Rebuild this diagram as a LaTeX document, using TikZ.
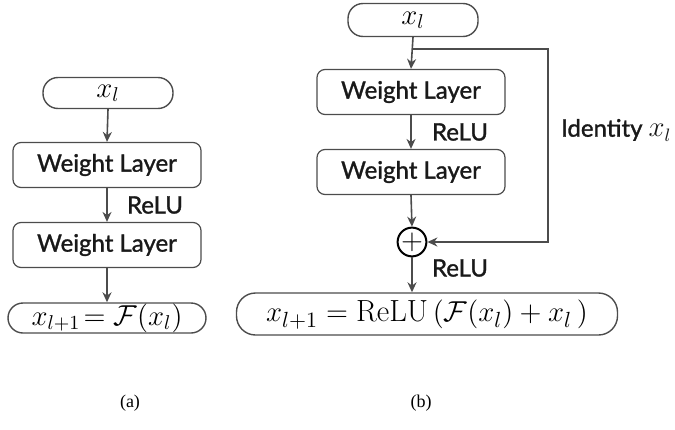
\documentclass[tikz,border=0pt]{standalone}
\usepackage{fontspec}
\newfontfamily\lato[RawFeature={embolden=1.3}]{Lato}
\newfontfamily\capfont{Liberation Serif}
\usetikzlibrary{arrows.meta}
\begin{document}
\begin{tikzpicture}[x=0.5pt,y=-0.5pt,
  lc/.style={draw=black!70},
  box/.style={lc, rounded corners=4pt, line width=0.6pt, minimum width=94pt, minimum height=22.5pt, inner sep=0pt, font=\lato\fontsize{12}{14}\selectfont, text=black!90},
  pill/.style={lc, rounded corners=7.5pt, line width=0.7pt, inner sep=0pt, font=\fontsize{14.2}{16}\selectfont},
  arr/.style={lc, line width=0.8pt, -{Stealth[length=5pt,width=4.5pt]}},
  lab/.style={font=\lato\fontsize{12}{14}\selectfont, text=black!90},
  captext/.style={font=\capfont\fontsize{9}{11}\selectfont}]
\useasboundingbox (0,0) rectangle (675,429);
% (a)
\node[pill, minimum width=65pt, minimum height=15.5pt] (a0) at (108,93) {$x_l$};
\node[box] (a1) at (107,165) {Weight Layer};
\node[box] (a2) at (107,245) {Weight Layer};
\node[pill, minimum width=99pt, minimum height=15pt] (a3) at (107,318) {$x_{l+1}\!= \mathcal{F}(x_l)$};
\draw[arr] (a0.south) -- (a1.north);
\draw[arr] (a1.south) -- (a2.north);
\draw[arr] (a2.south) -- (a3.north);
\node[lab] (r1) at (155,205) {ReLU};
% (b)
\node[pill, minimum width=65pt, minimum height=16.5pt] (b0) at (413,20) {$x_l$};
\node[box] (b1) at (411,92) {Weight Layer};
\node[box] (b2) at (411,172) {Weight Layer};
\node[draw=black, circle, line width=1pt, minimum size=13pt, inner sep=0pt, font=\fontsize{15}{15}\selectfont] (p) at (412,242) {$\mathbf{+}$};
\node[pill, rounded corners=9.5pt, minimum width=190.5pt, minimum height=21pt] (b3) at (427,314) {\fontsize{15.3}{17}\selectfont$x_{l+1} = \mathrm{ReLU}\,\Big(\mathcal{F}(x_l) + x_l\,\Big)$};
\coordinate (br) at (413,49);
\coordinate (c1) at (548,49);
\coordinate (c2) at (548,242);
\draw[arr] (b0.south) -- (b1.north);
\draw[arr] (b1.south) -- (b2.north);
\draw[arr] (b2.south) -- (p.north);
\draw[arr] (br) -- (c1) -- (c2) -- (p.east);
\draw[arr] (p.south) -- (p.south |- b3.north);
\node[lab] (r2) at (460,132) {ReLU};
\node[lab] (r3) at (460,268) {ReLU};
\node[lab, anchor=west] (id) at (554,130) {Identity \fontsize{13.5}{15}\selectfont$x_l$};
% captions
\node[captext] (ca) at (130,403) {(a)};
\node[captext] (cb) at (421,403) {(b)};
\end{tikzpicture}
\end{document}
